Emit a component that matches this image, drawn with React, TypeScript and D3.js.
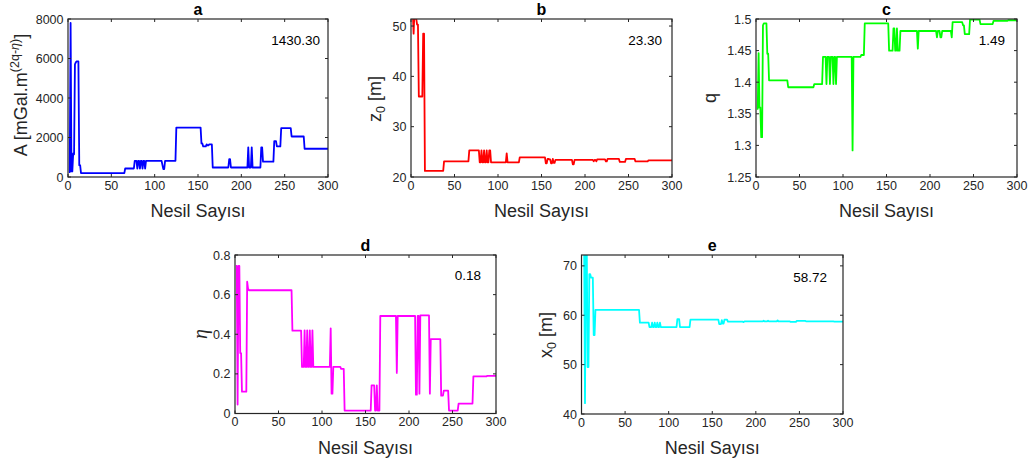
import React from "react";
import * as d3 from "d3";

// ---------- data (step levels: generation where a level starts, and its value) ----------
const xTicks = [0, 50, 100, 150, 200, 250, 300];

const aGen = [1, 3, 4, 6, 7, 8, 9, 10, 13, 15, 66, 77, 80, 81, 83, 84, 86, 87, 89, 90, 109, 110, 112, 125, 154, 156, 160, 161, 163, 167, 186, 188, 208, 209, 212, 213, 223, 225, 238, 241, 246, 258, 273];
const aVal = [250, 7800, 280, 1200, 1150, 5700, 5800, 5850, 600, 200, 430, 820, 420, 820, 420, 820, 420, 820, 420, 820, 600, 400, 820, 2500, 1700, 1550, 1650, 1600, 1650, 480, 900, 480, 1500, 480, 1500, 480, 1500, 780, 1820, 1550, 2470, 2050, 1430];
const aTicks = [0, 2000, 4000, 6000, 8000];

const bGen = [1, 3, 4, 5, 7, 9, 14, 16, 38, 67, 79, 81, 82, 84, 85, 87, 88, 90, 92, 110, 111, 125, 155, 157, 159, 161, 163, 164, 166, 186, 188, 210, 211, 213, 214, 224, 226, 240, 247, 258, 273];
const bVal = [53, 48.5, 53, 51.5, 50.3, 36, 48.5, 21.2, 23.1, 25.3, 22.9, 25.3, 22.9, 25.3, 22.9, 25.3, 22.9, 25.3, 22.9, 24.7, 22.9, 23.9, 22.7, 23.6, 23.5, 22.7, 23.6, 22.8, 23.4, 22.5, 23.4, 23.1, 23.4, 23.1, 23.5, 23.1, 23.6, 23.0, 23.6, 23.1, 23.3];
const bTicks = [20, 30, 40, 50];

const cGen = [1, 3, 4, 6, 8, 9, 13, 15, 37, 67, 77, 81, 82, 85, 86, 89, 90, 92, 93, 111, 112, 121, 125, 153, 158, 160, 162, 163, 166, 186, 187, 208, 209, 212, 214, 225, 226, 238, 240, 246, 258, 273, 290];
const cVal = [1.358, 1.446, 1.36, 1.313, 1.49, 1.493, 1.445, 1.403, 1.392, 1.397, 1.44, 1.397, 1.44, 1.397, 1.44, 1.397, 1.44, 1.397, 1.44, 1.292, 1.44, 1.443, 1.493, 1.45, 1.485, 1.45, 1.485, 1.45, 1.481, 1.453, 1.481, 1.471, 1.481, 1.471, 1.481, 1.471, 1.495, 1.49, 1.476, 1.499, 1.492, 1.497, 1.498];
const cTicks = [1.25, 1.3, 1.35, 1.4, 1.45, 1.5];

const dGen = [1, 3, 4, 6, 8, 14, 15, 16, 66, 77, 80, 81, 83, 84, 86, 87, 89, 90, 110, 111, 113, 122, 126, 157, 161, 163, 164, 167, 186, 187, 208, 210, 212, 213, 224, 225, 237, 240, 246, 257, 274, 290];
const dVal = [0.745, 0.045, 0.745, 0.305, 0.11, 0.665, 0.63, 0.622, 0.418, 0.235, 0.42, 0.235, 0.42, 0.235, 0.42, 0.235, 0.42, 0.235, 0.43, 0.1, 0.235, 0.225, 0.015, 0.142, 0.015, 0.142, 0.015, 0.492, 0.205, 0.492, 0.095, 0.492, 0.1, 0.495, 0.1, 0.375, 0.09, 0.115, 0.015, 0.05, 0.187, 0.19];
const dTicks = [0, 0.2, 0.4, 0.6, 0.8];

const eGen = [1, 4, 5, 7, 9, 11, 14, 16, 67, 78, 81, 82, 84, 85, 87, 88, 90, 91, 110, 113, 125, 158, 161, 162, 164, 168, 186, 187, 209, 210, 214, 215, 225, 226, 240, 247, 258, 290];
const eVal = [75, 42.2, 75, 49.5, 68.3, 67.6, 56, 61.1, 58.5, 57.6, 58.5, 57.6, 58.5, 57.6, 58.5, 57.6, 58.5, 57.6, 59.2, 57.6, 59.1, 58.2, 59.0, 58.3, 59.1, 58.7, 58.6, 58.75, 58.9, 58.75, 58.9, 58.75, 58.95, 58.75, 58.65, 58.85, 58.75, 58.72];
const eTicks = [40, 50, 60, 70];

const finalLabels = ["1430.30", "23.30", "1.49", "0.18", "58.72"];
const titles = ["a", "b", "c", "d", "e"];
const xLabel = "Nesil Sayısı";

// ---------- helpers ----------
function stepPoints(gens: number[], vals: number[], end: number): [number, number][] {
  const pts: [number, number][] = [];
  for (let i = 0; i < gens.length; i++) {
    const g0 = gens[i];
    const g1 = i + 1 < gens.length ? gens[i + 1] - 1 : end;
    pts.push([g0, vals[i]]);
    if (g1 > g0) pts.push([g1, vals[i]]);
  }
  return pts;
}

const FONT = "'Liberation Sans', Arial, Helvetica, sans-serif";
const AX = "#262626";

type PanelProps = {
  id: string;
  left: number; right: number; top: number; bottom: number;
  yDomain: [number, number];
  yTicks: number[];
  yFmt: (v: number) => string;
  gens: number[]; vals: number[];
  color: string;
  title: string;
  note: string;
  noteX: number; noteY: number;
  yLabel: React.ReactNode;
};

function Panel(p: PanelProps) {
  const x = d3.scaleLinear().domain([0, 300]).range([p.left, p.right]);
  const y = d3.scaleLinear().domain(p.yDomain).range([p.bottom, p.top]);
  const line = d3.line<[number, number]>().x((d) => x(d[0])).y((d) => y(d[1]));
  const pts = stepPoints(p.gens, p.vals, 300);
  const tl = 3;
  const cx = (p.left + p.right) / 2;
  return (
    <g>
      <defs>
        <clipPath id={"clip-" + p.id}>
          <rect x={p.left} y={p.top} width={p.right - p.left} height={p.bottom - p.top} />
        </clipPath>
      </defs>
      <rect x={p.left} y={p.top} width={p.right - p.left} height={p.bottom - p.top} fill="#fff" />
      <path d={line(pts) || ""} fill="none" stroke={p.color} strokeWidth={1.8} strokeLinejoin="round" clipPath={`url(#clip-${p.id})`} />
      <rect x={p.left} y={p.top} width={p.right - p.left} height={p.bottom - p.top} fill="none" stroke={AX} strokeWidth={1.2} />
      {xTicks.map((t) => (
        <g key={"x" + t}>
          <line x1={x(t)} x2={x(t)} y1={p.bottom} y2={p.bottom - tl} stroke={AX} />
          <line x1={x(t)} x2={x(t)} y1={p.top} y2={p.top + tl} stroke={AX} />
          <text x={x(t)} y={p.bottom + 12.5} textAnchor="middle" fontSize={12.5} fill={AX} fontFamily={FONT}>{t}</text>
        </g>
      ))}
      {p.yTicks.map((t) => (
        <g key={"y" + t}>
          <line x1={p.left} x2={p.left + tl} y1={y(t)} y2={y(t)} stroke={AX} />
          <line x1={p.right} x2={p.right - tl} y1={y(t)} y2={y(t)} stroke={AX} />
          <text x={p.left - 4.5} y={y(t) + 4.5} textAnchor="end" fontSize={12.5} fill={AX} fontFamily={FONT}>{p.yFmt(t)}</text>
        </g>
      ))}
      <text x={cx} y={p.top - 4} textAnchor="middle" fontSize={16} fontWeight="bold" fill="#000" fontFamily={FONT}>{p.title}</text>
      <text x={cx} y={p.bottom + 40} textAnchor="middle" fontSize={18} fill={AX} fontFamily={FONT}>{xLabel}</text>
      <text x={p.noteX} y={p.noteY + 4.5} textAnchor="end" fontSize={13.5} fill="#000" fontFamily={FONT}>{p.note}</text>
      {p.yLabel}
    </g>
  );
}

export default function App() {
  const fmtInt = (v: number) => String(v);
  const fmtDec = (v: number) => String(+v.toFixed(2));
  return (
    <svg width={1028} height={464} style={{ position: "absolute", left: 0, top: 0, background: "#fff" }}>
      <rect x={0} y={0} width={1028} height={464} fill="#fff" />
      <Panel id="a" left={68} right={328} top={19} bottom={177} yDomain={[0, 8000]} yTicks={aTicks} yFmt={fmtInt}
        gens={aGen} vals={aVal} color="#0000ff" title={titles[0]} note={finalLabels[0]} noteX={320} noteY={40}
        yLabel={
          <text transform="translate(27,95) rotate(-90)" textAnchor="middle" fontSize={18} fill={AX} fontFamily={FONT}>
            A [mGal.m<tspan dy={-8} fontSize={12.5}>(2q-<tspan fontStyle="italic">η</tspan>)</tspan><tspan dy={8}>]</tspan>
          </text>
        } />
      <Panel id="b" left={411} right={672} top={19} bottom={177} yDomain={[20, 51.4]} yTicks={bTicks} yFmt={fmtInt}
        gens={bGen} vals={bVal} color="#ff0000" title={titles[1]} note={finalLabels[1]} noteX={662} noteY={40}
        yLabel={
          <text transform="translate(381,99) rotate(-90)" textAnchor="middle" fontSize={18} fill={AX} fontFamily={FONT}>
            z<tspan dy={4} fontSize={12.5}>0</tspan><tspan dy={-4}> [m]</tspan>
          </text>
        } />
      <Panel id="c" left={756} right={1017} top={19} bottom={177} yDomain={[1.25, 1.5]} yTicks={cTicks} yFmt={fmtDec}
        gens={cGen} vals={cVal} color="#00ff00" title={titles[2]} note={finalLabels[2]} noteX={1005} noteY={40}
        yLabel={
          <text transform="translate(716,98) rotate(-90)" textAnchor="middle" fontSize={18} fill={AX} fontFamily={FONT}>q</text>
        } />
      <Panel id="d" left={235} right={496} top={255} bottom={413.5} yDomain={[0, 0.8]} yTicks={dTicks} yFmt={fmtDec}
        gens={dGen} vals={dVal} color="#ff00ff" title={titles[3]} note={finalLabels[3]} noteX={481} noteY={275}
        yLabel={
          <text transform="translate(207,334) rotate(-90)" textAnchor="middle" fontSize={20} fontStyle="italic" fill={AX} fontFamily="'Liberation Serif', 'DejaVu Serif', serif">η</text>
        } />
      <Panel id="e" left={581.5} right={843} top={255} bottom={414} yDomain={[40, 72.2]} yTicks={eTicks} yFmt={fmtInt}
        gens={eGen} vals={eVal} color="#00ffff" title={titles[4]} note={finalLabels[4]} noteX={827} noteY={277}
        yLabel={
          <text transform="translate(552,335) rotate(-90)" textAnchor="middle" fontSize={18} fill={AX} fontFamily={FONT}>
            x<tspan dy={4} fontSize={12.5}>0</tspan><tspan dy={-4}> [m]</tspan>
          </text>
        } />
    </svg>
  );
}
